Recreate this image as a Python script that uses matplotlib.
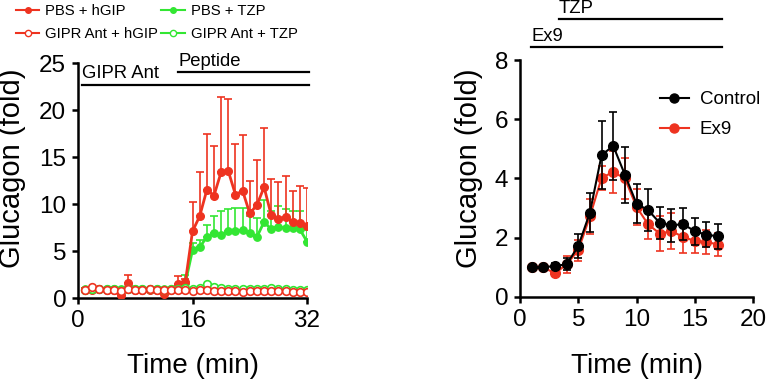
import numpy as np
import matplotlib
matplotlib.use("Agg")
import matplotlib.pyplot as plt
from matplotlib.lines import Line2D

plt.rcParams['font.family'] = ['Liberation Sans', 'DejaVu Sans']

# --- left panel data (time 1..32 min) ---
t_left = np.arange(1, 33)
pbs_hgip = [0.9, 0.9, 0.95, 0.85, 0.9, 0.35, 1.6, 0.9, 0.9, 0.9, 0.85, 0.45, 0.9, 1.5, 1.7,
            7.1, 8.7, 11.5, 10.9, 13.4, 13.5, 11.0, 11.4, 9.0, 9.9, 11.8, 8.8, 8.4, 8.6, 8.1, 8.0, 7.7]
pbs_hgip_err = [0.2, 0.2, 0.2, 0.2, 0.2, 0.2, 0.9, 0.2, 0.2, 0.2, 0.2, 0.2, 0.2, 0.8, 0.3,
                3.1, 4.7, 6.0, 5.3, 8.0, 7.7, 5.4, 5.9, 3.4, 4.8, 6.3, 3.9, 3.9, 4.4, 3.3, 3.9, 4.0]
pbs_tzp = [1.0, 1.0, 0.95, 1.0, 1.0, 0.95, 1.0, 1.0, 1.0, 1.0, 1.0, 1.0, 1.0, 1.2, 1.6,
           5.1, 5.4, 6.5, 6.9, 6.7, 7.1, 7.1, 7.2, 6.9, 6.5, 8.1, 7.3, 7.6, 7.4, 7.4, 7.3, 6.0]
pbs_tzp_err = [0.1, 0.1, 0.1, 0.1, 0.1, 0.1, 0.1, 0.1, 0.1, 0.1, 0.1, 0.1, 0.1, 0.3, 0.9,
               0.7, 0.8, 1.3, 1.8, 2.6, 2.4, 2.5, 2.4, 1.8, 2.0, 2.3, 2.0, 2.2, 2.1, 1.9, 2.0, 1.2]
ant_hgip = [0.85, 1.2, 1.0, 0.85, 0.9, 0.75, 0.95, 0.8, 0.9, 1.0, 0.8, 0.85, 0.8, 0.85, 0.9,
            0.75, 0.8, 0.9, 0.7, 0.7, 0.7, 0.7, 0.65, 0.7, 0.7, 0.75, 0.7, 0.75, 0.7, 0.65, 0.6, 0.65]
ant_tzp = [0.9, 1.0, 1.0, 0.95, 0.95, 0.9, 1.0, 0.95, 1.0, 1.0, 0.95, 0.9, 0.95, 1.0, 1.1,
           1.0, 1.1, 1.5, 1.2, 1.1, 1.0, 1.0, 0.95, 1.0, 0.95, 1.0, 1.1, 1.0, 1.0, 0.9, 0.85, 0.8]

# --- right panel data (time 1..17 min) ---
t_right = np.arange(1, 18)
control = [1.0, 1.0, 1.05, 1.1, 1.72, 2.85, 4.79, 5.1, 4.13, 3.15, 2.93, 2.5, 2.42, 2.46, 2.22, 2.1, 2.05]
control_err = [0.05, 0.05, 0.1, 0.2, 0.4, 0.65, 1.15, 1.15, 0.95, 0.65, 0.7, 0.55, 0.55, 0.55, 0.45, 0.42, 0.42]
ex9 = [1.0, 1.0, 0.8, 1.1, 1.58, 2.72, 4.02, 4.22, 4.0, 3.04, 2.45, 2.14, 2.22, 2.03, 1.89, 1.86, 1.77]
ex9_err = [0.05, 0.05, 0.1, 0.3, 0.35, 0.6, 0.4, 0.72, 0.7, 0.6, 0.5, 0.6, 0.6, 0.55, 0.4, 0.4, 0.4]

RED = '#ee3320'
GREEN = '#33e633'

fig = plt.figure(figsize=(7.67, 3.81), dpi=100)
ax1 = fig.add_axes([0.1017, 0.2178, 0.2986, 0.6168])
ax2 = fig.add_axes([0.678, 0.2205, 0.3038, 0.622])

for ax in (ax1, ax2):
    for s in ('top', 'right'):
        ax.spines[s].set_visible(False)
    for s in ('left', 'bottom'):
        ax.spines[s].set_linewidth(1.8)
    ax.tick_params(width=1.8, length=4.5, labelsize=17.5, pad=4)

# left panel
ax1.errorbar(t_left, pbs_tzp, yerr=[np.zeros(32), pbs_tzp_err], color=GREEN, lw=2,
             marker='o', ms=5.3, capsize=3, elinewidth=1.2, capthick=1.2, zorder=3)
ax1.errorbar(t_left, pbs_hgip, yerr=[np.zeros(32), pbs_hgip_err], color=RED, lw=2,
             marker='o', ms=5.5, capsize=3, elinewidth=1.2, capthick=1.2, zorder=4)
ax1.plot(t_left, ant_tzp, color=GREEN, lw=1.2, marker='o', ms=5.5, mfc='white', mew=1.2, zorder=5)
ax1.plot(t_left, ant_hgip, color=RED, lw=1.2, marker='o', ms=5.5, mfc='white', mew=1.2, zorder=6)

ax1.set_xlim(0, 32)
ax1.set_ylim(0, 25)
ax1.set_xticks([0, 16, 32])
ax1.set_yticks([0, 5, 10, 15, 20, 25])
ax1.set_xlabel('Time (min)', fontsize=20)
ax1.set_ylabel('Glucagon (fold)', fontsize=21)
ax1.xaxis.set_label_coords(0.5, -0.234)
ax1.yaxis.set_label_coords(-0.225, 0.551)

ax1.plot([0.5, 32.3], [22.7, 22.7], color='black', lw=1.6, clip_on=False)
ax1.text(0.5, 23.0, 'GIPR Ant', fontsize=13.3, ha='left', va='bottom')
ax1.plot([14, 32.3], [24.0, 24.0], color='black', lw=1.6, clip_on=False)
ax1.text(14, 24.3, 'Peptide', fontsize=13.3, ha='left', va='bottom')

handles = [
    Line2D([], [], color=RED, marker='o', ms=4, lw=1.5),
    Line2D([], [], color=RED, marker='o', ms=4.5, lw=1.5, mfc='white'),
    Line2D([], [], color=GREEN, marker='o', ms=4, lw=1.5),
    Line2D([], [], color=GREEN, marker='o', ms=4.5, lw=1.5, mfc='white'),
]
labels = ['PBS + hGIP', 'GIPR Ant + hGIP', 'PBS + TZP', 'GIPR Ant + TZP']
fig.legend(handles, labels, loc='upper left', bbox_to_anchor=(0.003, 1.025), ncol=2,
           frameon=False, fontsize=10.7, handlelength=1.6, handletextpad=0.4,
           columnspacing=0.2, labelspacing=0.6)

# right panel
ax2.errorbar(t_right, control, yerr=control_err, color='black', lw=1.5, marker='o', ms=7,
             capsize=3, elinewidth=1.2, capthick=1.2, zorder=4, label='Control')
ax2.errorbar(t_right, ex9, yerr=ex9_err, color=RED, lw=1.5, marker='o', ms=7,
             capsize=3, elinewidth=1.2, capthick=1.2, zorder=3, label='Ex9')
ax2.set_xlim(0, 20)
ax2.set_ylim(0, 8)
ax2.set_xticks([0, 5, 10, 15, 20])
ax2.set_yticks([0, 2, 4, 6, 8])
ax2.set_xlabel('Time (min)', fontsize=20)
ax2.set_ylabel('Glucagon (fold)', fontsize=21)
ax2.xaxis.set_label_coords(0.5, -0.236)
ax2.yaxis.set_label_coords(-0.16, 0.542)

h, l = ax2.get_legend_handles_labels()
h = [Line2D([], [], color=c, marker='o', ms=6.5, lw=1.5) for c in ('black', RED)]
ax2.legend(h, l, loc='upper left', bbox_to_anchor=(0.53, 0.94), frameon=False,
           fontsize=13.5, handlelength=1.5, handletextpad=0.6, labelspacing=0.7)

ax2.plot([0.95, 17.3], [8.44, 8.44], color='black', lw=1.6, clip_on=False)
ax2.text(0.95, 8.52, 'Ex9', fontsize=13.3, ha='left', va='bottom')
ax2.plot([3.35, 17.3], [9.38, 9.38], color='black', lw=1.6, clip_on=False)
ax2.text(3.35, 9.46, 'TZP', fontsize=13.3, ha='left', va='bottom')

fig.savefig('out.png', dpi=100)
